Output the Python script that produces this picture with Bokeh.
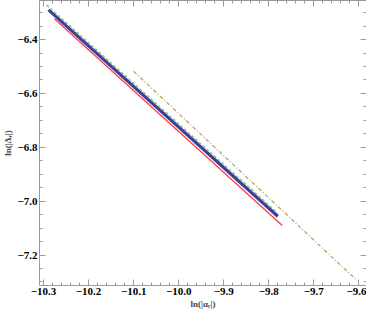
from bokeh.plotting import figure
from bokeh.models import Range1d, LinearAxis, FixedTicker, CustomJSTickFormatter
from bokeh.embed import file_html
from bokeh.resources import INLINE

# --- data ---
x_ticks = [-10.3, -10.2, -10.1, -10.0, -9.9, -9.8, -9.7, -9.6]
y_ticks = [-7.2, -7.0, -6.8, -6.6, -6.4]
x_minor = [round(-10.32 + 0.02 * i, 2) for i in range(38)]
y_minor = [round(-7.35 + 0.05 * i, 2) for i in range(23)]
x_title = "ln(|\u03b1\u1d63|)"
y_title = "ln(|\u0394\u1d63|)"

blue_x = [-10.289, -9.780]
blue_y = [-6.290, -7.056]
green_x = [-10.293, -9.783]
green_y = [-6.272, -7.040]
red_x = [-10.276, -9.770]
red_y = [-6.323, -7.090]
olive_x = [-10.100, -9.607]
olive_y = [-6.518, -7.290]

X0, X1 = -10.309, -9.583
Y0, Y1 = -7.313, -6.255

AX = "#9a9a9a"
FONT = "Liberation Serif"

p = figure(width=366, height=311, x_range=Range1d(X0, X1),
           y_range=Range1d(Y0, Y1), output_backend="svg",
           toolbar_location=None, x_axis_location=None, y_axis_location=None,
           min_border_left=35, min_border_right=0, min_border_top=0,
           min_border_bottom=0)
p.xgrid.visible = False
p.ygrid.visible = False
p.outline_line_color = None
p.background_fill_color = "white"
p.border_fill_color = "white"

fmt = CustomJSTickFormatter(code="""
const s = Math.abs(tick).toFixed(1);
return (tick < 0 ? '\u2212' : '') + s;
""")
blank = CustomJSTickFormatter(code="return '';")


def make_axis(ticks, minor, labels, axis_label=None):
    ax = LinearAxis(ticker=FixedTicker(ticks=ticks, minor_ticks=minor))
    ax.axis_line_color = AX
    ax.major_tick_line_color = AX
    ax.minor_tick_line_color = AX
    ax.major_tick_in = 6
    ax.major_tick_out = 0
    ax.minor_tick_in = 3
    ax.minor_tick_out = 0
    if labels:
        ax.formatter = fmt
        ax.major_label_text_font = FONT
        ax.major_label_text_font_size = "11px"
        ax.major_label_text_font_style = "bold"
        ax.major_label_text_color = "black"
        ax.major_label_standoff = 2
    else:
        ax.formatter = blank
        ax.major_label_standoff = 0
    if axis_label:
        ax.axis_label = axis_label
        ax.axis_label_text_font = FONT
        ax.axis_label_text_font_size = "9px"
        ax.axis_label_text_font_style = "bold"
        ax.axis_label_standoff = 1
    return ax


p.add_layout(make_axis(x_ticks, x_minor, True, x_title), "below")
p.add_layout(make_axis(y_ticks, y_minor, True, y_title), "left")
p.add_layout(make_axis(x_ticks, x_minor, False), "above")
p.add_layout(make_axis(y_ticks, y_minor, False), "right")

p.line(olive_x, olive_y, line_color="#b8a66c", line_width=1.3, line_dash="4 2 1 2")
p.line(red_x, red_y, line_color="#ff3b3b", line_width=1.3)
p.line(blue_x, blue_y, line_color="#3c3f9e", line_width=3.2)
p.line(green_x, green_y, line_color="#8fc08f", line_width=1.5, line_dash="3 2")

open("out.html", "w").write(file_html(p, INLINE))
